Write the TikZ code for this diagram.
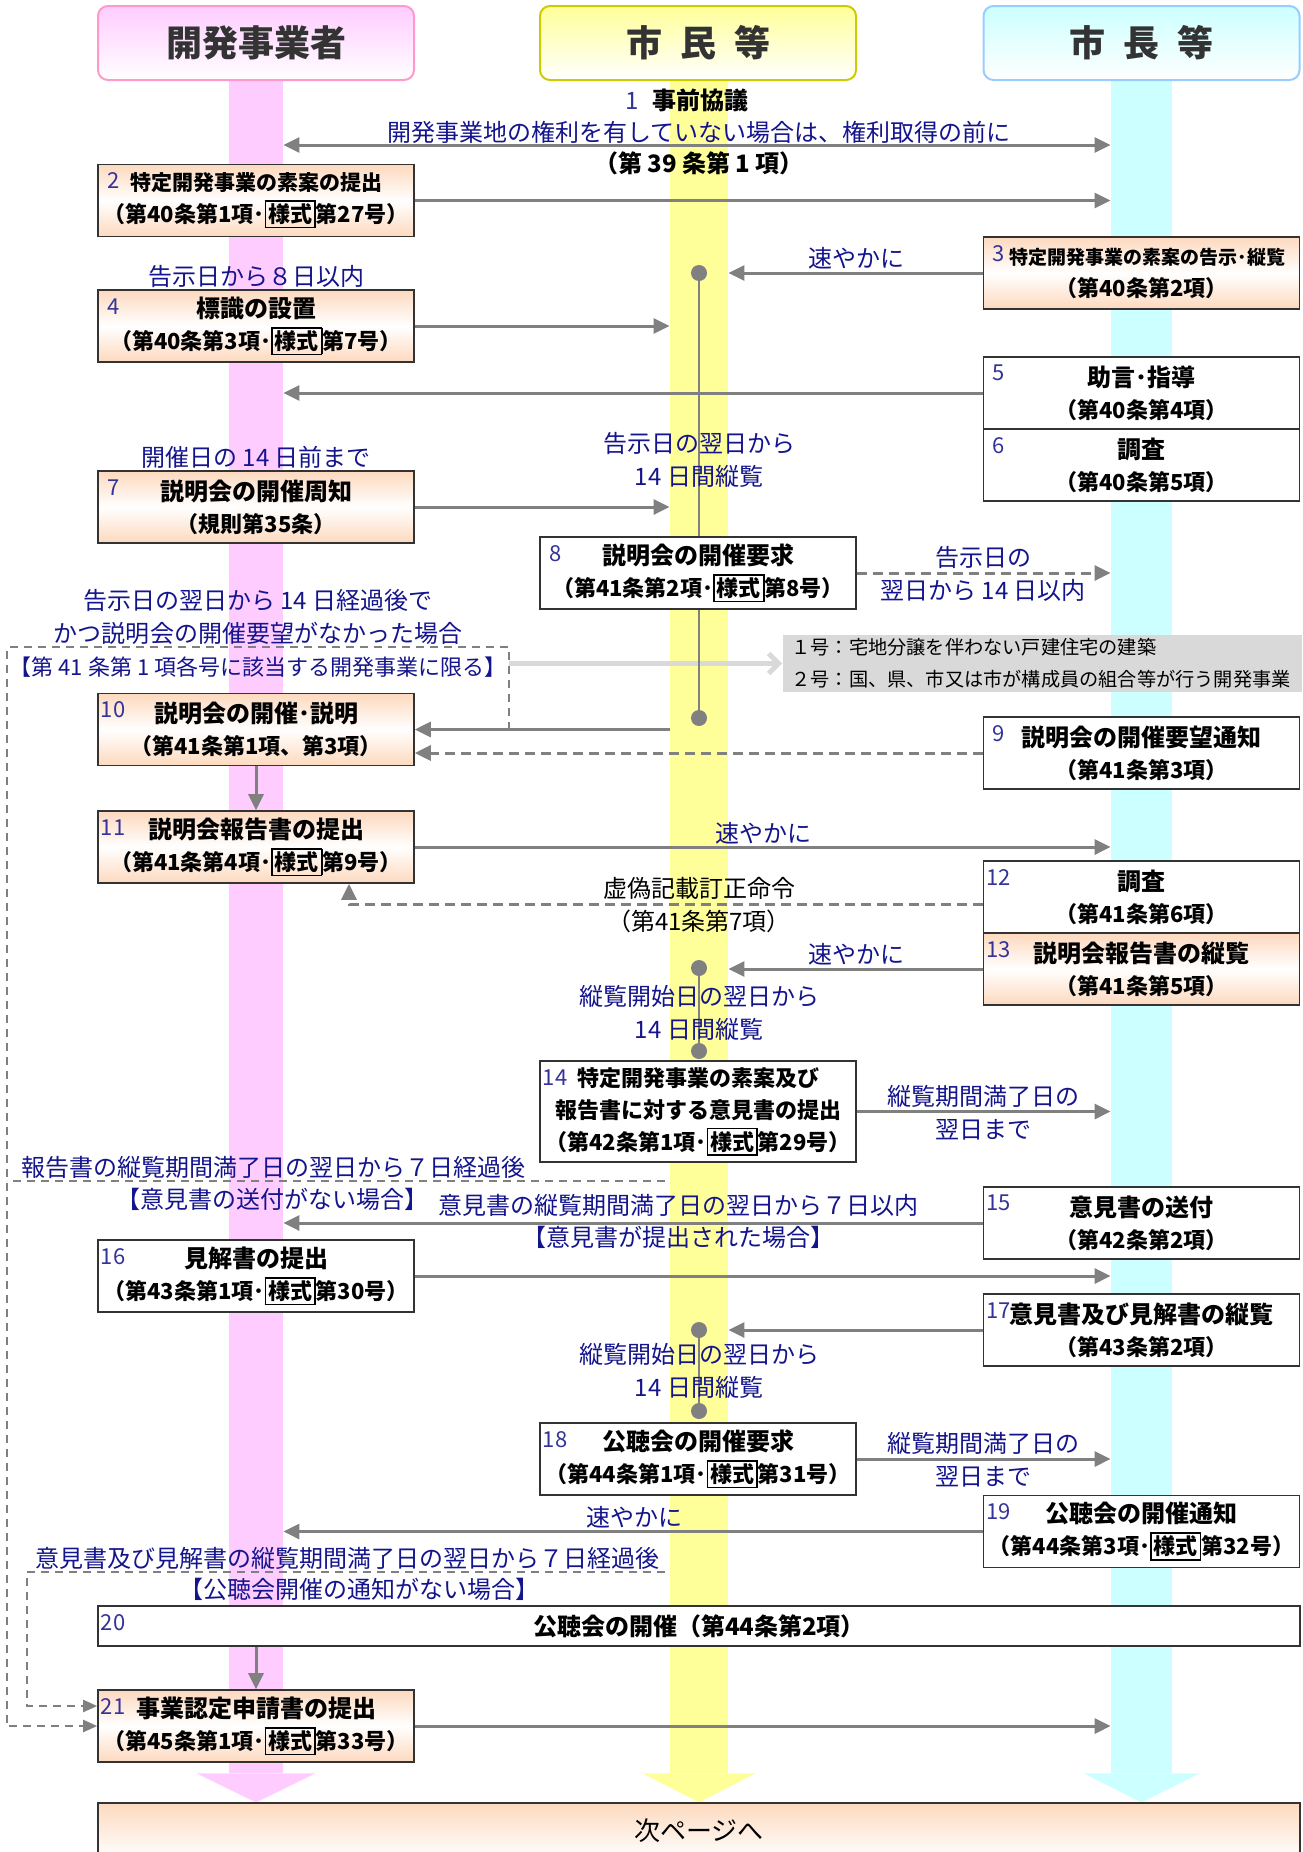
\documentclass[tikz,border=0pt]{standalone}
\usepackage{fontspec}
\setmainfont{Noto Sans CJK JP}
\usetikzlibrary{arrows.meta}
\pgfdeclarelayer{background}
\pgfsetlayers{background,main}

\definecolor{lanepink}{RGB}{255,204,255}
\definecolor{laneyellow}{RGB}{255,255,153}
\definecolor{lanecyan}{RGB}{204,255,255}
\definecolor{pinkline}{RGB}{255,153,204}
\definecolor{yellowline}{RGB}{204,204,0}
\definecolor{cyanline}{RGB}{153,204,255}
\definecolor{peach}{RGB}{253,217,190}
\definecolor{arrgray}{RGB}{128,128,128}
\definecolor{lightarr}{RGB}{217,217,217}
\definecolor{boxgray}{RGB}{217,217,217}
\definecolor{navy}{RGB}{20,20,140}
\definecolor{numblue}{RGB}{51,51,153}

\newcommand{\waku}[1]{{\setlength{\fboxsep}{1pt}\setlength{\fboxrule}{0.8pt}\fbox{#1}}}
\newcommand{\ttl}[2][12]{{\fontsize{#1}{16}\selectfont #2}}

\begin{document}
\begin{tikzpicture}[x=0.5pt, y=-0.5pt,
    hdrbox/.style={rounded corners=5pt, line width=1pt, minimum width=158pt, minimum height=37pt,
      font=\fontsize{18}{20}\selectfont\bfseries, text=black!80},
    lanebar/.style={minimum height=846.5pt, inner sep=0pt},
    whitebox/.style={draw=black!80, line width=0.8pt, fill=white, minimum width=158pt, minimum height=36pt,
      inner sep=1pt, align=center, font=\fontsize{11}{16}\selectfont\bfseries},
    peachbox/.style={whitebox, top color=peach, bottom color=peach, middle color=white},
    numlabel/.style={text=numblue, inner sep=0pt, font=\fontsize{11}{12}\selectfont},
    bluenote/.style={text=navy, align=center, inner sep=0pt, font=\fontsize{12}{16.5}\selectfont},
    grayarrow/.style={draw=arrgray, line width=1.5pt, -{Triangle[length=8pt,width=7.5pt]}},
    dasharrow/.style={grayarrow, dash pattern=on 5pt off 3pt},
    dashline/.style={draw=arrgray, line width=1pt, dash pattern=on 4pt off 3pt},
    lanedot/.style={circle, fill=arrgray, inner sep=0pt, minimum size=8pt},
    lightarrow/.style={draw=lightarr, line width=2.5pt, -{Straight Barb[length=5pt,width=10pt]}}
  ]
    \useasboundingbox (0,0) rectangle (1302,1852);

    % lanes
    \begin{pgfonlayer}{background}
      \node[lanebar, fill=lanepink, minimum width=27pt] (lp) at (256,926.5) {};
      \node[lanebar, fill=laneyellow, minimum width=29pt] (ly) at (699,926.5) {};
      \node[lanebar, fill=lanecyan, minimum width=30.5pt] (lc) at (1141.5,926.5) {};
      \fill[lanepink] ([xshift=-16pt]lp.south west) -- ([xshift=16pt]lp.south east) -- ([yshift=-14.5pt]lp.south) -- cycle;
      \fill[laneyellow] ([xshift=-13.5pt]ly.south west) -- ([xshift=13.5pt]ly.south east) -- ([yshift=-14.5pt]ly.south) -- cycle;
      \fill[lanecyan] ([xshift=-13.5pt]lc.south west) -- ([xshift=13.5pt]lc.south east) -- ([yshift=-14.5pt]lc.south) -- cycle;
    \end{pgfonlayer}

    \node[hdrbox, draw=pinkline, top color=lanepink, bottom color=white] (h1) at (256,43) {開発事業者};
    \node[hdrbox, draw=yellowline, top color=laneyellow, bottom color=white] (h2) at (698,43) {市\hspace{0.5em}民\hspace{0.5em}等};
    \node[hdrbox, draw=cyanline, top color=lanecyan, bottom color=white] (h3) at (1141.5,43) {市\hspace{0.5em}長\hspace{0.5em}等};

    % steps
    \node[peachbox] (b2) at (256,200.5) {\ttl[10.5]{特定開発事業の素案の提出}\\（第40条第1項･\waku{様式}第27号）};
    \node[peachbox] (b3) at (1141.5,273) {\ttl[9.5]{\hspace{6pt}特定開発事業の素案の告示･縦覧}\\（第40条第2項）};
    \node[peachbox] (b4) at (256,326) {\ttl{標識の設置}\\（第40条第3項･\waku{様式}第7号）};
    \node[whitebox] (b5) at (1141.5,393) {\ttl{助言･指導}\\（第40条第4項）};
    \node[whitebox] (b6) at (1141.5,465) {\ttl{調査}\\（第40条第5項）};
    \node[peachbox] (b7) at (256,507) {\ttl{説明会の開催周知}\\（規則第35条）};
    \node[whitebox] (b8) at (698,573) {\ttl{説明会の開催要求}\\（第41条第2項･\waku{様式}第8号）};
    \node[whitebox] (b9) at (1141.5,753) {\ttl{説明会の開催要望通知}\\（第41条第3項）};
    \node[peachbox] (b10) at (256,729.5) {\ttl{説明会の開催･説明}\\（第41条第1項、第3項）};
    \node[peachbox] (b11) at (256,847) {\ttl{説明会報告書の提出}\\（第41条第4項･\waku{様式}第9号）};
    \node[whitebox] (b12) at (1141.5,897) {\ttl{調査}\\（第41条第6項）};
    \node[peachbox] (b13) at (1141.5,969) {\ttl{説明会報告書の縦覧}\\（第41条第5項）};
    \node[whitebox, minimum height=50.5pt] (b14) at (698,1111.5) {特定開発事業の素案及び\\報告書に対する意見書の提出\\（第42条第1項･\waku{様式}第29号）};
    \node[whitebox] (b15) at (1141.5,1223) {\ttl{意見書の送付}\\（第42条第2項）};
    \node[whitebox] (b16) at (256,1276) {\ttl{見解書の提出}\\（第43条第1項･\waku{様式}第30号）};
    \node[whitebox] (b17) at (1141.5,1330) {\ttl{意見書及び見解書の縦覧}\\（第43条第2項）};
    \node[whitebox] (b18) at (698,1459) {\ttl{公聴会の開催要求}\\（第44条第1項･\waku{様式}第31号）};
    \node[whitebox] (b19) at (1141.5,1531.5) {\ttl{公聴会の開催通知}\\（第44条第3項･\waku{様式}第32号）};
    \node[whitebox, minimum width=601pt, minimum height=20pt] (b20) at (699,1626) {\ttl{公聴会の開催（第44条第2項）}};
    \node[peachbox] (b21) at (256,1726) {\ttl{事業認定申請書の提出}\\（第45条第1項･\waku{様式}第33号）};
    \node[whitebox, top color=peach, bottom color=white, minimum width=601pt, minimum height=28pt, anchor=north,
      font=\fontsize{13}{16}\selectfont] (nx) at (699,1802) {次ページへ};
    \foreach \b in {2,...,21}
      \node[numlabel] (n\b) at ([xshift=8pt,yshift=-8.5pt]b\b.north west) {\b};

    \node[whitebox, fill=boxgray, draw=none, align=left, text width=251pt, inner xsep=4.25pt, minimum height=28.5pt,
      font=\fontsize{9.6}{16}\selectfont] (gb) at (1042.5,663.5)
      {１号：宅地分譲を伴わない戸建住宅の建築\\２号：国、県、市又は市が構成員の組合等が行う開発事業};

    % dots on the citizens lane
    \node[lanedot] (d1) at (699,273) {};
    \node[lanedot] (d2) at (699,718) {};
    \node[lanedot] (d3) at (699,968) {};
    \node[lanedot] (d4) at (699,1051) {};
    \node[lanedot] (d5) at (699,1330) {};
    \node[lanedot] (d6) at (699,1411) {};

    \coordinate (a1) at (0,145);
    \coordinate (g1) at (509,647);
    \coordinate (g2) at (7,647);
    \coordinate (g3) at (27,1572);
    \coordinate (g4) at (665,1181);
    \coordinate (g5) at (665,1572);

    \draw[grayarrow, {Triangle[length=8pt,width=7.5pt]}-{Triangle[length=8pt,width=7.5pt]}] (lp.east |- a1) -- (lc.west |- a1);
    \path[every edge/.style={grayarrow}]
      (b2.east) edge (b2.east -| lc.west)
      (b3.west) edge (b3.west -| ly.east)
      (b4.east) edge (b4.east -| ly.west)
      (b5.west) edge (b5.west -| lp.east)
      (b7.east) edge (b7.east -| ly.west)
      (ly.west |- b10.east) edge (b10.east)
      (b10.south) edge (b11.north)
      (b11.east) edge (b11.east -| lc.west)
      (b13.west) edge (b13.west -| ly.east)
      (b14.east) edge (b14.east -| lc.west)
      (b15.west) edge (b15.west -| lp.east)
      (b16.east) edge (b16.east -| lc.west)
      (b17.west) edge (b17.west -| ly.east)
      (b18.east) edge (b18.east -| lc.west)
      (b19.west) edge (b19.west -| lp.east)
      (b20.south -| b21.north) edge (b21.north)
      (b21.east) edge (b21.east -| lc.west);
    \path[every edge/.style={dasharrow}]
      (b8.east) edge (b8.east -| lc.west)
      (b9.west) edge (b9.west -| b10.east);
    \draw[dasharrow] ([yshift=-3.5pt]b12.west) -| ([xshift=46.5pt]b11.south);

    \draw[dashline, -{Triangle[length=7pt,width=6pt]}] (b10.east -| g1) -- (g1) -- (g2) |- (b21.west);
    \draw[dashline] (g4) -- (g4 -| g2);
    \draw[dashline, -{Triangle[length=7pt,width=6pt]}] (g5) -- (g3) |- ([yshift=10pt]b21.west);

    \begin{pgfonlayer}{background}
      \draw[lightarrow] (g1 |- gb.west) -- (gb.west);
      \draw[draw=arrgray, line width=1pt] (d1) -- (d2) (d3) -- (d4) (d5) -- (d6);
    \end{pgfonlayer}

    % labels
    \node[bluenote, text=black, font=\fontsize{12}{16}\selectfont\bfseries] (t1) at (687,100) {{\color{numblue}\mdseries 1}\hspace{0.6em}事前協議};
    \node[bluenote] (t2) at (699,132) {開発事業地の権利を有していない場合は、権利取得の前に};
    \node[bluenote, text=black, font=\fontsize{12}{16}\selectfont\bfseries] (t3) at (699,163) {（第 39 条第 1 項）};
    \node[bluenote] (t4) at (856,258) {速やかに};
    \node[bluenote] (t5) at (256,276) {告示日から８日以内};
    \node[bluenote] (t6) at (256,457) {開催日の 14 日前まで};
    \node[bluenote] (t7) at (699,460) {告示日の翌日から\\14 日間縦覧};
    \node[bluenote] (t8) at (983,574) {告示日の\\翌日から 14 日以内};
    \node[bluenote] (t9) at (258,617) {告示日の翌日から 14 日経過後で\\かつ説明会の開催要望がなかった場合};
    \node[bluenote, font=\fontsize{11}{16}\selectfont] (t10) at (258,667) {【第 41 条第 1 項各号に該当する開発事業に限る】};
    \node[bluenote] (t11) at (763,833) {速やかに};
    \node[bluenote, text=black] (t12) at (699,905) {虚偽記載訂正命令\\（第41条第7項）};
    \node[bluenote] (t13) at (856,954) {速やかに};
    \node[bluenote] (t14) at (699,1013) {縦覧開始日の翌日から\\14 日間縦覧};
    \node[bluenote] (t15) at (983,1113) {縦覧期間満了日の\\翌日まで};
    \node[bluenote] (t16) at (273,1167) {報告書の縦覧期間満了日の翌日から７日経過後};
    \node[bluenote] (t17) at (272,1199) {【意見書の送付がない場合】};
    \node[bluenote] (t18) at (678,1205) {意見書の縦覧期間満了日の翌日から７日以内};
    \node[bluenote] (t19) at (678,1237) {【意見書が提出された場合】};
    \node[bluenote] (t20) at (699,1371) {縦覧開始日の翌日から\\14 日間縦覧};
    \node[bluenote] (t21) at (983,1460) {縦覧期間満了日の\\翌日まで};
    \node[bluenote] (t22) at (634,1517) {速やかに};
    \node[bluenote] (t23) at (347,1558) {意見書及び見解書の縦覧期間満了日の翌日から７日経過後};
    \node[bluenote] (t24) at (359,1589) {【公聴会開催の通知がない場合】};
\end{tikzpicture}
\end{document}
